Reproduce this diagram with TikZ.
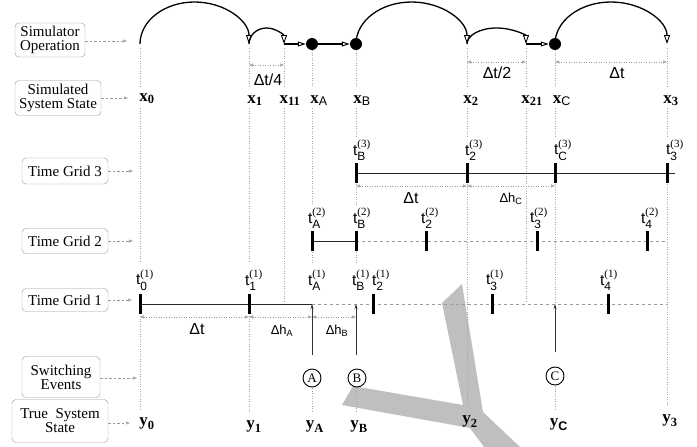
\documentclass[tikz,border=0pt]{standalone}
\usepackage{amsmath}
\usepackage{fontspec}
\setmainfont{Liberation Serif}
\newfontfamily\hv{Liberation Sans}
\usetikzlibrary{arrows.meta}
\tikzset{
  box/.style={draw=gray!80, rounded corners=4pt, align=center, inner sep=0pt, font=\fontsize{15}{14}\selectfont},
  lead/.style={gray!80, dash pattern=on 2.5pt off 2pt, line width=0.6pt, -{Triangle[open,length=4pt,width=3pt]}},
  col/.style={gray!70, dash pattern=on 1pt off 1.5pt, line width=0.6pt},
  dimline/.style={gray!80, dash pattern=on 1pt off 1.5pt, line width=0.6pt, {Triangle[open,length=4pt,width=3pt]}-{Triangle[open,length=4pt,width=3pt]}},
  arcp/.style={black, line width=1.3pt, -{Triangle[open,length=9pt,width=6pt,line width=0.9pt]}},
  thickarr/.style={black, line width=2.2pt, -{Triangle[open,length=8pt,width=5pt,line width=1pt]}},
  gtick/.style={black, line width=3pt},
  gsolid/.style={gray!30!black, line width=0.9pt},
  gdash/.style={gray!80, line width=0.8pt, dash pattern=on 3pt off 3pt},
  bigdot/.style={circle, fill=black, minimum size=12pt, inner sep=0pt},
  evt/.style={circle, draw, line width=0.9pt, minimum size=18pt, inner sep=0pt, font=\fontsize{13}{13}\selectfont},
  evarr/.style={gray!40!black, line width=0.7pt, -{Stealth[length=5pt,width=3pt]}},
  xl/.style={font=\fontsize{17}{17}\selectfont, inner sep=0pt, anchor=base},
  tl/.style={font=\hv\fontsize{15.5}{15.5}\selectfont, inner sep=0pt, anchor=south},
  dl/.style={font=\hv\fontsize{16}{16}\selectfont, inner sep=0pt},
  dls/.style={font=\hv\fontsize{13}{13}\selectfont, inner sep=0pt},
}
\newcommand{\xlab}[2]{$\text{\bfseries x}_{\text{\fontsize{12.5}{12.5}\selectfont#2#1}}$}
\newcommand{\ylab}[2]{$\text{\bfseries y}_{\text{\fontsize{12.5}{12.5}\selectfont#2#1}}$}
\newcommand{\tlab}[2]{$\text{t}^{\text{\rmfamily\fontsize{11}{11}\selectfont(#2)}}_{\text{\fontsize{12}{12}\selectfont#1}}$}
\begin{document}
\begin{tikzpicture}[x=1pt,y=-1pt]
\useasboundingbox (0,0) rectangle (697,447);
% gray Y shape
\fill[gray!50] (462,284) -- (483,412) -- (520,447) -- (484,447) -- (470,428) -- (342,405) -- (353,386) -- (463,405) -- (442,303) -- cycle;

% left boxes
\node[box, minimum width=70pt, minimum height=34pt] (bSO) at (50,40) {Simulator\\Operation};
\node[box, minimum width=86pt, minimum height=35pt] (bSS) at (58,98) {Simulated\\System State};
\node[box, minimum width=86pt, minimum height=26pt] (bT3) at (65,171) {Time Grid 3};
\node[box, minimum width=86pt, minimum height=25pt] (bT2) at (65,241) {Time Grid 2};
\node[box, minimum width=86pt, minimum height=23pt] (bT1) at (65,300) {Time Grid 1};
\node[box, minimum width=78pt, minimum height=41pt] (bSE) at (61,377) {Switching\\Events};
\node[box, minimum width=96pt, minimum height=43pt] (bTS) at (60,421) {True\ \ System\\State};
\coordinate (eSO) at (127,41);
\coordinate (eSS) at (128,98);
\coordinate (eT3) at (133,171);
\coordinate (eT2) at (133,241);
\coordinate (eT1) at (132,300);
\coordinate (eSE) at (137,378);
\coordinate (eTS) at (130,423);
\draw[lead] (bSO.east |- eSO) -- (eSO);
\draw[lead] (bSS.east |- eSS) -- (eSS);
\draw[lead] (bT3.east |- eT3) -- (eT3);
\draw[lead] (bT2.east |- eT2) -- (eT2);
\draw[lead] (bT1.east |- eT1) -- (eT1);
\draw[lead] (bSE.east |- eSE) -- (eSE);
\draw[lead] (bTS.east |- eTS) -- (eTS);

% dotted columns
\draw[col] (140,48)--(140,86) (140,108)--(140,262) (140,316)--(140,411);
\draw[col] (249,48)--(249,86) (249,108)--(249,262) (249,316)--(249,412);
\draw[col] (284,48)--(284,86) (284,108)--(284,303);
\draw[col] (312,50)--(312,86) (312,108)--(312,205) (312,252)--(312,264) (312,388)--(312,412);
\draw[col] (356,50)--(356,86) (356,108)--(356,137) (356,184)--(356,205) (356,252)--(356,264) (356,388)--(356,412);
\draw[col] (467,48)--(467,86) (467,108)--(467,137) (467,184)--(467,406);
\draw[col] (526,48)--(526,86) (526,108)--(526,303);
\draw[col] (555,50)--(555,86) (555,108)--(555,137) (555,184)--(555,303) (555,386)--(555,411);
\draw[col] (667,48)--(667,86) (667,108)--(667,137) (667,184)--(667,406);

% simulator operation
\coordinate (p0) at (140,44);
\coordinate (p1) at (249,44);
\coordinate (p11) at (284,44);
\coordinate (p2) at (467,44);
\coordinate (p21) at (526,44);
\coordinate (p3) at (667,44);
\node[bigdot] (dA) at (312,44) {};
\node[bigdot] (dB) at (356,44) {};
\node[bigdot] (dC) at (555,44) {};
\draw[arcp] (p0) arc[start angle=180, end angle=360, x radius=54.5, y radius=42];
\draw[arcp] (p1) arc[start angle=180, end angle=360, x radius=17.5, y radius=16];
\draw[thickarr] (p11) -- (dA.west);
\draw[thickarr] (dA.east) -- (dB.west);
\draw[arcp] (dB.center) arc[start angle=180, end angle=360, x radius=55.5, y radius=42];
\draw[arcp] (p2) arc[start angle=180, end angle=360, x radius=29.5, y radius=16];
\draw[thickarr] (p21) -- (dC.west);
\draw[arcp] (dC.center) arc[start angle=180, end angle=360, x radius=56, y radius=42];

% top dimensions
\coordinate (q1) at (249,65); \coordinate (q11) at (284,65);
\draw[dimline] (q1) -- (q11);
\node[dl] (ld1) at (268,80) {Δt/4};
\coordinate (q2) at (467,62); \coordinate (q21) at (526,62);
\draw[dimline] (q2) -- (q21);
\node[dl] (ld2) at (497,73) {Δt/2};
\coordinate (qC) at (555,62); \coordinate (q3) at (667,62);
\draw[dimline] (qC) -- (q3);
\node[dl] (ld3) at (617,73) {Δt};

% simulated states
\node[xl] (x0) at (147,101) {\xlab{0}{\bfseries}};
\node[xl] (x1) at (255,103) {\xlab{1}{\bfseries}};
\node[xl] (x11) at (290,103) {\xlab{11}{\bfseries}};
\node[xl] (xA) at (319,103) {\xlab{A}{\hv}};
\node[xl] (xB) at (362,103) {\xlab{B}{\hv}};
\node[xl] (x2) at (471,103) {\xlab{2}{\bfseries}};
\node[xl] (x21) at (532,103) {\xlab{21}{\bfseries}};
\node[xl] (xC) at (562,103) {\xlab{C}{\hv}};
\node[xl] (x3) at (671,103) {\xlab{3}{\bfseries}};

% time grid 3
\draw[gsolid] (356,173) -- (675,173);
\foreach \c in {356,467,555,667} \draw[gtick] (\c,163) -- (\c,183);
\node[tl] (t3B) at (362,161) {\tlab{B}{3}};
\node[tl] (t32) at (474,161) {\tlab{2}{3}};
\node[tl] (t3C) at (563,161) {\tlab{C}{3}};
\node[tl] (t33) at (675,161) {\tlab{3}{3}};
\coordinate (r1) at (356,186); \coordinate (r2) at (467,186); \coordinate (r3) at (555,186);
\draw[dimline] (r1) -- (r2);
\draw[dimline] (r2) -- (r3);
\node[dl] (ld4) at (411,198) {Δt};
\node[dls] (ld5) at (511,199) {$\text{Δh}_{\text{C}}$};

% time grid 2
\draw[gsolid] (312,241) -- (356,241);
\draw[gdash] (356,241) -- (667,241);
\foreach \c in {312,356,426,537,647} \draw[gtick] (\c,231) -- (\c,251);
\node[tl] (t2A) at (317,229) {\tlab{A}{2}};
\node[tl] (t2B) at (362,229) {\tlab{B}{2}};
\node[tl] (t22) at (430,229) {\tlab{2}{2}};
\node[tl] (t23) at (539,229) {\tlab{3}{2}};
\node[tl] (t24) at (650,229) {\tlab{4}{2}};

% time grid 1
\draw[gsolid] (140,304) -- (312,304);
\draw[gdash] (312,304) -- (667,304);
\foreach \c in {140,249,373,492,608} \draw[gtick] (\c,294) -- (\c,314);
\node[tl] (t10) at (145,291) {\tlab{0}{1}};
\node[tl] (t11) at (254,291) {\tlab{1}{1}};
\node[tl] (t1A) at (317,291) {\tlab{A}{1}};
\node[tl] (t1B) at (361,291) {\tlab{B}{1}};
\node[tl] (t12) at (381,291) {\tlab{2}{1}};
\node[tl] (t13) at (495,291) {\tlab{3}{1}};
\node[tl] (t14) at (609,291) {\tlab{4}{1}};
\coordinate (s0) at (140,317); \coordinate (s1) at (249,317);
\coordinate (sA) at (312,317); \coordinate (sB) at (356,317);
\draw[dimline] (s0) -- (s1);
\draw[dimline] (s1) -- (sA);
\draw[dimline] (sA) -- (sB);
\node[dl] (ld6) at (197,329) {Δt};
\node[dls] (ld7) at (282,331) {$\text{Δh}_{\text{A}}$};
\node[dls] (ld8) at (337,331) {$\text{Δh}_{\text{B}}$};

% switching events
\node[evt] (eA) at (312,378) {A};
\node[evt] (eB) at (357,378) {B};
\node[evt] (eC) at (555,376) {C};
\coordinate (aA1) at (312,355); \coordinate (aA2) at (312,304);
\coordinate (aB1) at (356,355); \coordinate (aB2) at (356,304);
\coordinate (aC1) at (555,352); \coordinate (aC2) at (555,304);
\draw[evarr] (aA1) -- (aA2);
\draw[evarr] (aB1) -- (aB2);
\draw[evarr] (aC1) -- (aC2);

% true states
\node[xl] (y0) at (147,425) {\ylab{0}{\bfseries}};
\node[xl] (y1) at (254,428) {\ylab{1}{\bfseries}};
\node[xl] (yA) at (315,428) {\ylab{A}{\bfseries}};
\node[xl] (yB) at (359,428) {\ylab{B}{\bfseries}};
\node[xl] (y2) at (470,423) {\ylab{2}{\bfseries}};
\node[xl] (yC) at (559,426) {\ylab{C}{\hv\bfseries}};
\node[xl] (y3) at (670,422) {\ylab{3}{\bfseries}};
\end{tikzpicture}
\end{document}
